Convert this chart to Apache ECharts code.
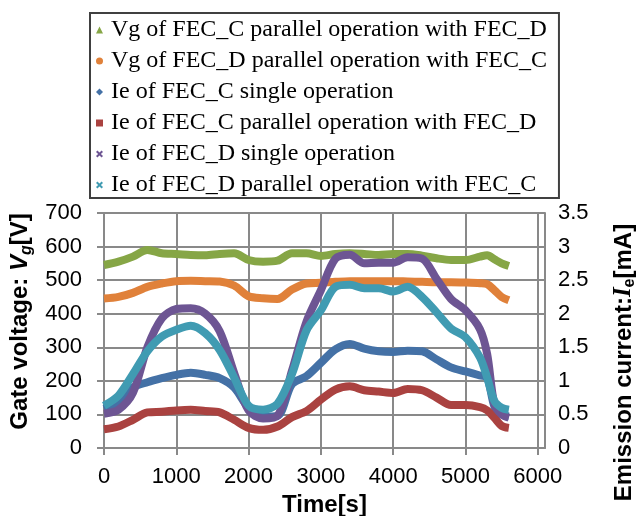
<!DOCTYPE html>
<html>
<head>
<meta charset="utf-8">
<script src="https://cdn.jsdelivr.net/npm/echarts/dist/echarts.min.js"></script>
<style>
html,body{margin:0;padding:0;background:#fff}
#chart{width:641px;height:516px}
</style>
</head>
<body>
<div id="chart"></div>
<script>
// time axis [s]
var timeS = [0,200,400,600,800,1000,1200,1400,1600,1800,2000,2200,2400,2600,2800,3000,3200,3400,3600,3800,4000,4200,4400,4600,4800,5000,5200,5300,5400,5500,5600];
// gate voltage [V]
var vgFecC = [545,555,570,590,580,578,575,574,578,580,560,555,558,580,580,572,578,580,578,575,578,578,573,565,560,560,570,574,562,550,542];
var vgFecD = [445,450,462,480,490,497,498,497,496,484,452,446,444,472,490,492,495,497,497,497,497,496,495,494,494,493,491,488,470,450,440];
// emission current [mA]
var ieCSingle = [0.58,0.68,0.90,0.98,1.04,1.09,1.12,1.09,1.04,0.90,0.60,0.47,0.48,0.95,1.07,1.27,1.47,1.55,1.48,1.44,1.43,1.45,1.44,1.32,1.20,1.14,1.08,1.05,0.62,0.50,0.47];
var ieCParallel = [0.28,0.32,0.42,0.53,0.54,0.56,0.57,0.55,0.53,0.42,0.30,0.27,0.32,0.46,0.55,0.72,0.87,0.92,0.86,0.84,0.82,0.88,0.86,0.75,0.64,0.64,0.61,0.56,0.45,0.33,0.30];
var ieDSingle = [0.51,0.57,0.82,1.50,1.93,2.07,2.08,2.00,1.74,1.12,0.56,0.44,0.48,1.15,1.88,2.35,2.82,2.88,2.75,2.76,2.76,2.84,2.82,2.52,2.22,2.05,1.77,1.40,0.65,0.50,0.45];
var ieDParallel = [0.63,0.78,1.10,1.44,1.66,1.76,1.82,1.71,1.46,1.05,0.63,0.57,0.66,1.10,1.75,2.05,2.40,2.43,2.38,2.38,2.33,2.40,2.25,2.02,1.78,1.65,1.35,1.05,0.70,0.60,0.57];

var xTicks = {min: 0, max: 6100, step: 1000};
var vTicks = {min: 0, max: 700, step: 100};
var iTicks = {min: 0, max: 3.5, step: 0.5};

var seriesNames = [
	'Vg of FEC_C parallel operation with FEC_D',
	'Vg of FEC_D parallel operation with FEC_C',
	'Ie of FEC_C single operation',
	'Ie of FEC_C parallel operation with FEC_D',
	'Ie of FEC_D single operation',
	'Ie of FEC_D parallel operation with FEC_C'
];
var seriesData = [vgFecC, vgFecD, ieCSingle, ieCParallel, ieDSingle, ieDParallel];
var seriesAxis = [0, 0, 1, 1, 1, 1];
var colors = ['#86a646', '#e0813a', '#4471a6', '#aa4240', '#6d5593', '#409bb2'];
var crossIcon = 'path://M0,2L2,0L5,3L8,0L10,2L7,5L10,8L8,10L5,7L2,10L0,8L3,5Z';
var icons = ['triangle', 'circle', 'diamond', 'rect', crossIcon, crossIcon];

function pairs(ys) {
	return timeS.map(function(t, i) { return [t, ys[i]]; });
}

var gridGray = '#898989';
var sans = 'Liberation Sans, Arial, sans-serif';

var series = [];
var legendData = [];
for (var i = 0; i < seriesNames.length; i++) {
	series.push({
		name: seriesNames[i],
		type: 'line',
		yAxisIndex: seriesAxis[i],
		data: pairs(seriesData[i]),
		symbol: 'none',
		smooth: 0.3,
		lineStyle: {width: 8, color: colors[i]},
		itemStyle: {color: colors[i]}
	});
	legendData.push({name: seriesNames[i], icon: icons[i]});
}

var myChart = echarts.init(document.getElementById('chart'));
var option = {
	animation: false,
	color: colors,
	grid: {left: 104, right: 96, top: 213, bottom: 68, containLabel: false, outerBoundsMode: 'none'},
	legend: {
		orient: 'vertical',
		left: 90,
		top: 13,
		padding: [5, 12, 1, 6],
		itemGap: 7,
		itemWidth: 7,
		itemHeight: 7,
		borderColor: '#404040',
		borderWidth: 2,
		textStyle: {fontFamily: 'Liberation Serif, Times New Roman, serif', fontSize: 24, lineHeight: 24, color: '#000', padding: [0, 0, 0, 3]},
		data: legendData
	},
	xAxis: {
		type: 'value',
		min: xTicks.min,
		max: xTicks.max,
		interval: xTicks.step,
		name: 'Time[s]',
		nameLocation: 'middle',
		nameGap: 45,
		nameTextStyle: {fontFamily: sans, fontWeight: 'bold', fontSize: 24, color: '#000'},
		axisLine: {lineStyle: {color: gridGray, width: 2}},
		axisTick: {show: true, length: 7, lineStyle: {color: gridGray, width: 2}},
		axisLabel: {
			fontFamily: sans, fontSize: 22, color: '#000', margin: 18, showMaxLabel: false,
			formatter: function(v) { return String(v); }
		},
		splitLine: {show: true, lineStyle: {color: gridGray, width: 2}}
	},
	yAxis: [{
		type: 'value',
		min: vTicks.min,
		max: vTicks.max,
		interval: vTicks.step,
		name: '{b|Gate voltage: }{v|V}{s|g}{b|[V]}',
		nameLocation: 'middle',
		nameRotate: 90,
		nameGap: 61,
		nameTextStyle: {
			padding: [0, 0, 0, 18],
			rich: {
				b: {fontFamily: sans, fontWeight: 'bold', fontSize: 24, color: '#000', lineHeight: 28},
				v: {fontFamily: sans, fontWeight: 'bold', fontStyle: 'italic', fontSize: 24, color: '#000', lineHeight: 28},
				s: {fontFamily: sans, fontWeight: 'bold', fontStyle: 'italic', fontSize: 16, color: '#000', lineHeight: 28, verticalAlign: 'bottom'}
			}
		},
		axisLine: {show: true, lineStyle: {color: gridGray, width: 2}},
		axisTick: {show: true, length: 7, lineStyle: {color: gridGray, width: 2}},
		axisLabel: {fontFamily: sans, fontSize: 22, color: '#000', margin: 22},
		splitLine: {show: true, lineStyle: {color: gridGray, width: 2}}
	}, {
		type: 'value',
		position: 'right',
		min: iTicks.min,
		max: iTicks.max,
		interval: iTicks.step,
		name: '{b|Emission current:}{v|I}{s|e}{b|[mA]}',
		nameLocation: 'middle',
		nameRotate: 90,
		nameGap: 65,
		nameTextStyle: {
			padding: [0, 64, 0, 0],
			rich: {
				b: {fontFamily: sans, fontWeight: 'bold', fontSize: 24, color: '#000', lineHeight: 28},
				v: {fontFamily: 'Liberation Serif, serif', fontWeight: 'bold', fontStyle: 'italic', fontSize: 25, color: '#000', lineHeight: 28},
				s: {fontFamily: sans, fontWeight: 'bold', fontSize: 16, color: '#000', lineHeight: 28, verticalAlign: 'bottom'}
			}
		},
		axisLine: {show: true, lineStyle: {color: gridGray, width: 2}},
		axisTick: {show: false},
		axisLabel: {fontFamily: sans, fontSize: 22, color: '#000', margin: 13},
		splitLine: {show: false}
	}],
	series: series
};
myChart.setOption(option);
</script>
</body>
</html>
